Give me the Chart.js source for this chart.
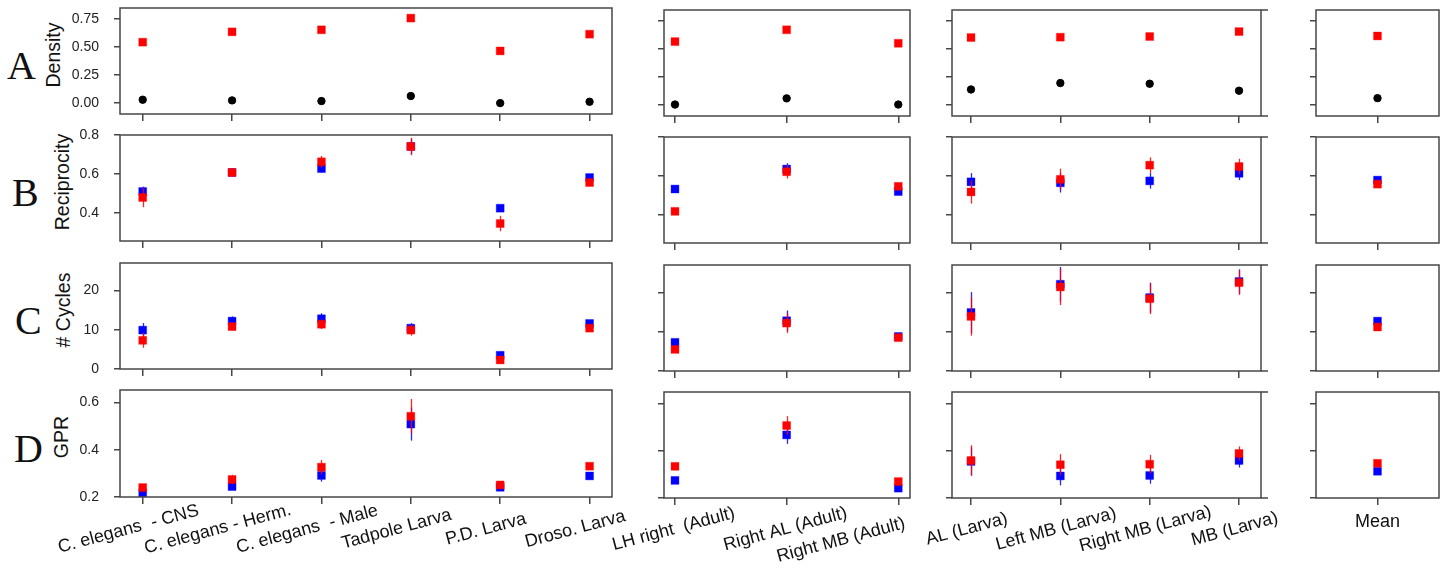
<!DOCTYPE html>
<html>
<head>
<meta charset="utf-8">
<script src="https://cdn.jsdelivr.net/npm/chart.js@4/dist/chart.umd.min.js"></script>
<style>
body { margin: 0; background: #fff; }
#wrap { position: relative; width: 1445px; height: 571px; overflow: hidden; }
#wrap canvas { position: absolute; }
.lbl { position: absolute; line-height: 1; white-space: nowrap; color: #111; }
.letter { font: 40px "Liberation Serif", serif; }
.ytitle { font: 19.5px "Liberation Sans", Arial, sans-serif; transform: translate(-50%, -50%) rotate(-90deg); }
</style>
</head>
<body>
<div id="wrap"></div>
<script>
// ===== DATA =====
const catsSpecies = ["C. elegans  - CNS", "C. elegans - Herm.", "C. elegans  - Male", "Tadpole Larva", "P.D. Larva", "Droso. Larva"];
const catsAdult = ["LH right  (Adult)", "Right AL (Adult)", "Right MB (Adult)"];
const catsLarva = ["AL (Larva)", "Left MB (Larva)", "Right MB (Larva)", "MB (Larva)"];
const catsMean = ["Mean"];

const densityTicks = [0, 0.25, 0.5, 0.75];
const reciprocityTicks = [0.4, 0.6, 0.8];
const cyclesTicks = [0, 10, 20];
const gprTicks = [0.2, 0.4, 0.6];

// one sub-array per group: species, adult, larva, mean
const densityRed = [[0.542, 0.634, 0.652, 0.756, 0.464, 0.613], [0.565, 0.670, 0.550], [0.601, 0.604, 0.610, 0.654], [0.615]];
const densityRedErr = [[0.008, 0.008, 0.008, 0.02, 0.008, 0.008], [0.008, 0.01, 0.008], [0.02, 0.022, 0.012, 0.012], [0.008]];
const densityBlack = [[0.03, 0.024, 0.018, 0.063, 0.0, 0.012], [0.005, 0.06, 0.005], [0.139, 0.196, 0.19, 0.128], [0.062]];

const reciprocityRed = [[0.478, 0.607, 0.662, 0.741, 0.344, 0.555], [0.417, 0.621, 0.546], [0.517, 0.582, 0.655, 0.648], [0.557]];
const reciprocityRedErr = [[0.05, 0.02, 0.03, 0.045, 0.04, 0.01], [0.012, 0.035, 0.01], [0.06, 0.055, 0.04, 0.04], [0.008]];
const reciprocityBlue = [[0.509, 0.607, 0.627, 0.741, 0.423, 0.581], [0.532, 0.635, 0.519], [0.569, 0.564, 0.574, 0.613], [0.578]];
const reciprocityBlueErr = [[0.025, 0.02, 0.02, 0.04, 0.015, 0.01], [0.01, 0.03, 0.01], [0.045, 0.05, 0.04, 0.035], [0.008]];

const cyclesRed = [[7.3, 10.8, 11.4, 9.9, 2.3, 10.4], [5.5, 12.2, 8.5], [13.9, 21.4, 18.4, 22.5], [11.2]];
const cyclesRedErr = [[1.9, 1.0, 1.2, 1.4, 0.5, 0.5], [0.6, 2.5, 0.4], [4.9, 4.6, 3.9, 3.1], [0.3]];
const cyclesBlue = [[9.9, 12.2, 12.8, 10.4, 3.5, 11.6], [7.3, 12.8, 8.8], [14.9, 22.1, 18.7, 22.8], [12.7]];
const cyclesBlueErr = [[1.8, 1.2, 1.4, 1.3, 0.5, 0.5], [0.5, 2.6, 0.4], [5.2, 4.4, 3.8, 3.1], [0.3]];

const gprRed = [[0.240, 0.274, 0.326, 0.541, 0.251, 0.330], [0.335, 0.509, 0.270], [0.360, 0.342, 0.344, 0.390], [0.348]];
const gprRedErr = [[0.01, 0.02, 0.03, 0.073, 0.008, 0.01], [0.01, 0.04, 0.01], [0.065, 0.045, 0.04, 0.03], [0.005]];
const gprBlue = [[0.217, 0.244, 0.291, 0.508, 0.241, 0.289], [0.275, 0.469, 0.242], [0.356, 0.294, 0.296, 0.360], [0.314]];
const gprBlueErr = [[0.01, 0.01, 0.026, 0.07, 0.008, 0.008], [0.008, 0.038, 0.008], [0.06, 0.04, 0.035, 0.03], [0.005]];

// ===== LAYOUT =====
const FRAME = "#474747";
const FONT = '"Liberation Sans", Arial, sans-serif';
const RED = { fill: "#ff0000", edge: "rgba(255,0,0,0.35)", line: "rgba(255,0,0,0.85)", style: "rect", radius: 5.6 };
const BLUE = { fill: "#0000ff", edge: "rgba(0,0,255,0.35)", line: "rgba(0,0,255,0.85)", style: "rect", radius: 5.6 };
const BLACK = { fill: "#000", edge: "#000", line: "#000", style: "circle", radius: 3.7 };

const cols = [
  { cats: catsSpecies, l: 120, r: 612, min: -0.254, max: 5.251, rot: 15, dx: -13, dy: 37 },
  { cats: catsAdult, l: 664, r: 910, min: -0.0985, max: 2.105, rot: 15, dx: 0, dy: 36 },
  { cats: catsLarva, l: 952, r: 1261, min: -0.2127, max: 3.246, rot: 15, dx: -3, dy: 36, extend: 7 },
  { cats: catsMean, l: 1316, r: 1439, min: -0.5, max: 0.5, rot: 0, dx: 0, dy: 29 }
];
const labelNudge = { "Right MB (Adult)": [-56, 11] };

const rows = [
  { letter: "A", title: "Density", top: [8, 10], bottom: [114, 116], min: -0.097, max: 0.846, ticks: densityTicks,
    fmt: v => v.toFixed(2), lx: 7, tx: 52.8,
    series: [[densityBlack, null, BLACK], [densityRed, densityRedErr, RED]] },
  { letter: "B", title: "Reciprocity", top: [135, 137], bottom: [241, 243], min: 0.254, max: 0.8, ticks: reciprocityTicks,
    fmt: v => v.toFixed(1), lx: 12, tx: 62.3,
    series: [[reciprocityRed, reciprocityRedErr, RED], [reciprocityBlue, reciprocityBlueErr, BLUE]] },
  { letter: "C", title: "# Cycles", top: [263, 265], bottom: [369, 371], min: 0, max: 27, ticks: cyclesTicks,
    fmt: v => String(v), lx: 15, tx: 62.5,
    series: [[cyclesRed, cyclesRedErr, RED], [cyclesBlue, cyclesBlueErr, BLUE]] },
  { letter: "D", title: "GPR", top: [390, 392], bottom: [497, 498], min: 0.2, max: 0.652, ticks: gprTicks,
    fmt: v => v.toFixed(1), lx: 14, tx: 61,
    series: [[gprRed, gprRedErr, RED], [gprBlue, gprBlueErr, BLUE]] }
];

const wrap = document.getElementById("wrap");

function addText(text, cls, css) {
  const d = document.createElement("div");
  d.className = "lbl " + cls;
  d.textContent = text;
  Object.assign(d.style, css);
  wrap.appendChild(d);
}

// ===== PLUGINS =====
const errorBars = {
  id: "errorBars",
  beforeDatasetDraw(chart, args) {
    const ds = chart.data.datasets[args.index];
    if (!ds.err) return;
    const { ctx, chartArea: a, scales: { x, y } } = chart;
    ctx.save();
    ctx.beginPath();
    ctx.rect(a.left, a.top, a.width, a.height);
    ctx.clip();
    ctx.strokeStyle = ds.errColor;
    ctx.lineWidth = 1.3;
    ds.data.forEach((p, i) => {
      const px = Math.round(x.getPixelForValue(p.x)) + 0.5;
      ctx.beginPath();
      ctx.moveTo(px, y.getPixelForValue(p.y - ds.err[i]));
      ctx.lineTo(px, y.getPixelForValue(p.y + ds.err[i]));
      ctx.stroke();
    });
    ctx.restore();
  }
};

function framePlugin(extend) {
  return {
    id: "frame",
    afterDraw(chart) {
      const { ctx, chartArea: a } = chart;
      ctx.save();
      ctx.strokeStyle = FRAME;
      ctx.lineWidth = 1.5;
      ctx.strokeRect(a.left, a.top, a.width, a.height);
      if (extend) {
        ctx.beginPath();
        ctx.moveTo(a.right, a.top); ctx.lineTo(a.right + extend, a.top);
        ctx.moveTo(a.right, a.bottom); ctx.lineTo(a.right + extend, a.bottom);
        ctx.stroke();
      }
      ctx.restore();
    }
  };
}

// y tick labels, placed from the y scale's own ticks
function yLabels(row) {
  return {
    id: "yLabels",
    afterDraw(chart) {
      const { ctx, chartArea: a, scales: { y } } = chart;
      ctx.save();
      ctx.font = "14px " + FONT;
      ctx.fillStyle = "#222";
      ctx.textAlign = "right";
      ctx.textBaseline = "middle";
      y.ticks.forEach(t => ctx.fillText(row.fmt(t.value), a.left - 21, y.getPixelForValue(t.value)));
      ctx.restore();
    }
  };
}

function catLabels(col) {
  return {
    id: "catLabels",
    afterDraw(chart) {
      const { ctx, chartArea: a, scales: { x } } = chart;
      ctx.save();
      ctx.font = "18px " + FONT;
      ctx.fillStyle = "#111";
      ctx.textAlign = "center";
      ctx.textBaseline = "alphabetic";
      col.cats.forEach((c, i) => {
        const n = labelNudge[c] || [0, 0];
        ctx.save();
        ctx.translate(x.getPixelForValue(i) + col.dx + n[0], a.bottom + col.dy + n[1]);
        ctx.rotate(-col.rot * Math.PI / 180);
        ctx.fillText(c, 0, 0);
        ctx.restore();
      });
      ctx.restore();
    }
  };
}

// ===== PANELS =====
function makePanel(ri, gi) {
  const row = rows[ri], col = cols[gi];
  const last = ri === rows.length - 1;
  const t = row.top[gi ? 1 : 0], b = row.bottom[gi ? 1 : 0];
  const padL = last ? 80 : (gi === 0 ? 60 : 12);
  const padR = last && gi < 3 ? 50 : (gi === 2 ? 10 : 5);
  const padT = 10;
  const padB = last ? 571 - b : 12;

  const cv = document.createElement("canvas");
  cv.width = col.r - col.l + padL + padR;
  cv.height = b - t + padT + padB;
  cv.style.left = (col.l - padL) + "px";
  cv.style.top = (t - padT) + "px";
  wrap.appendChild(cv);

  const plugins = [errorBars, framePlugin(col.extend)];
  if (gi === 0) plugins.push(yLabels(row));
  if (last) plugins.push(catLabels(col));

  new Chart(cv, {
    type: "scatter",
    data: {
      datasets: row.series.map(([vals, err, st]) => ({
        data: vals[gi].map((v, i) => ({ x: i, y: v })),
        err: err ? err[gi] : null,
        errColor: st.line,
        pointStyle: st.style,
        pointRadius: st.radius,
        backgroundColor: st.fill,
        borderColor: st.edge,
        borderWidth: 1,
        showLine: false,
        clip: 0
      }))
    },
    options: {
      responsive: false,
      animation: false,
      events: [],
      layout: { padding: { top: padT, right: padR, left: 0, bottom: 0 }, autoPadding: false },
      plugins: { legend: { display: false }, tooltip: { enabled: false } },
      scales: {
        x: {
          type: "linear", min: col.min, max: col.max,
          afterBuildTicks: s => { s.ticks = col.cats.map((c, i) => ({ value: i })); },
          afterFit: s => { s.height = padB; },
          ticks: { display: false },
          grid: { drawOnChartArea: false, tickLength: 7, color: FRAME, lineWidth: 1.5 },
          border: { display: false }
        },
        y: {
          type: "linear", min: row.min, max: row.max,
          afterBuildTicks: s => { s.ticks = row.ticks.map(v => ({ value: v })); },
          afterFit: s => { s.width = padL; },
          ticks: { display: false },
          grid: { drawOnChartArea: false, tickLength: 6, color: FRAME, lineWidth: 1.5 },
          border: { display: false }
        }
      }
    },
    plugins
  });
}

rows.forEach((row, ri) => {
  const t = row.top[0], b = row.bottom[0];
  addText(row.letter, "letter", { left: row.lx + "px", top: ((t + b) / 2 - 19) + "px" });
  addText(row.title, "ytitle", { left: row.tx + "px", top: ((t + b) / 2 - 6.5) + "px" });
  cols.forEach((c, gi) => makePanel(ri, gi));
});
</script>
</body>
</html>
